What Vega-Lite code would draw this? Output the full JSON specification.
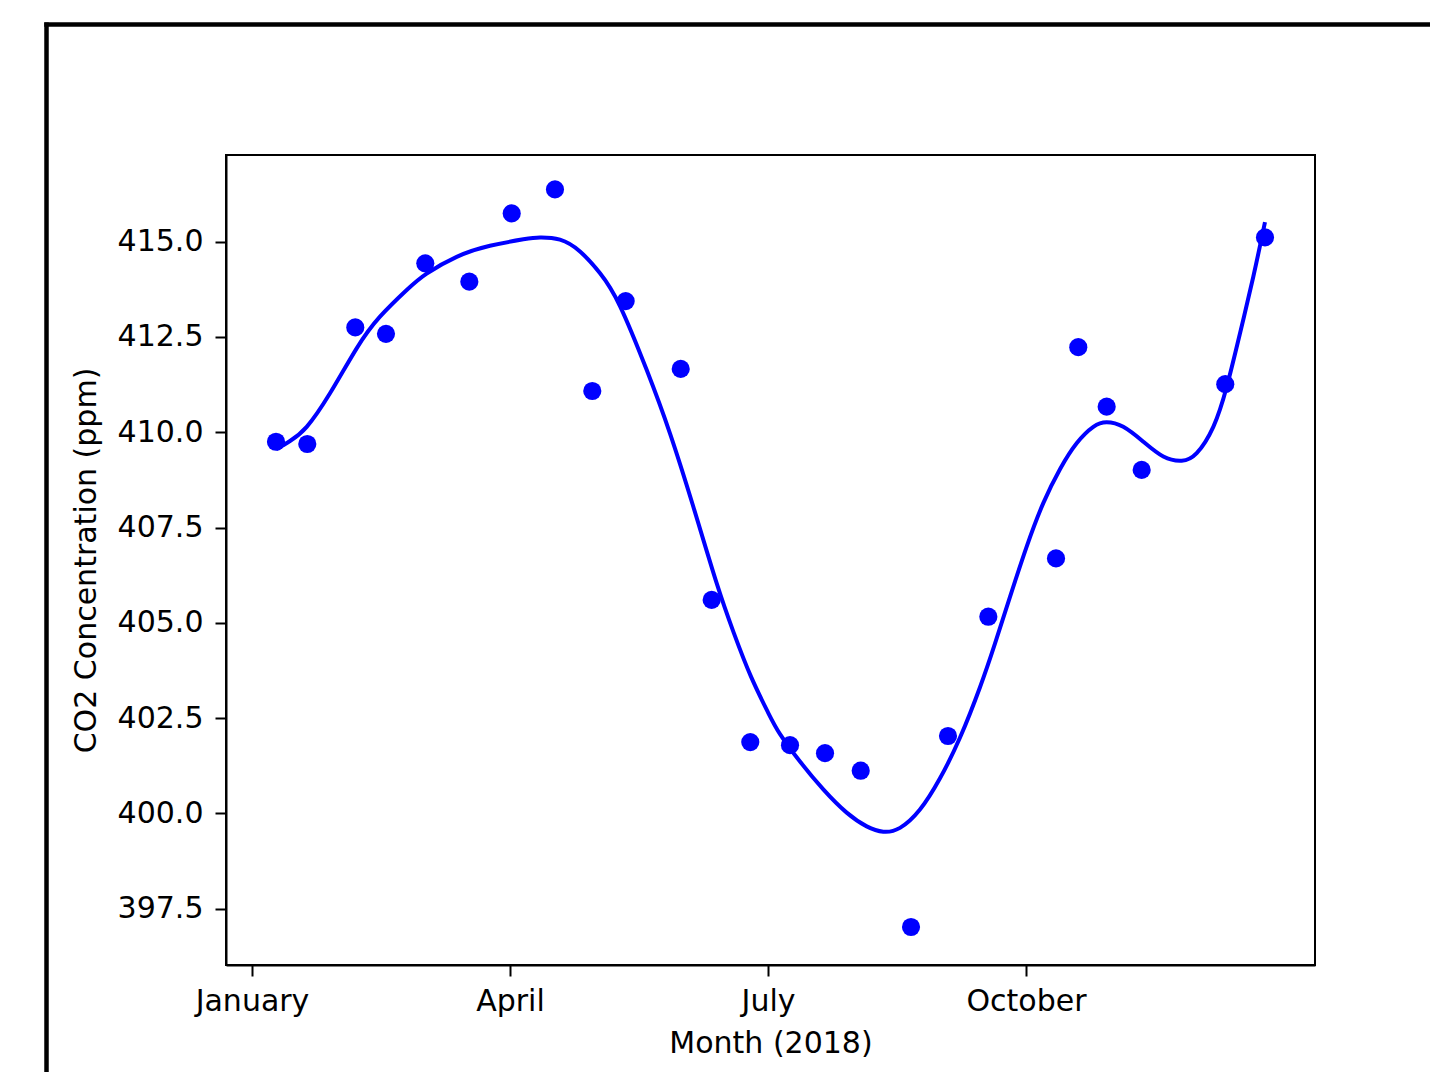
{
  "$schema": "https://vega.github.io/schema/vega-lite/v6.json",
  "width": 1089,
  "height": 810,
  "autosize": {"type": "none"},
  "padding": {"left": 226, "top": 155, "right": 115, "bottom": 107},
  "background": "white",
  "config": {
    "font": "DejaVu Sans",
    "view": {"stroke": "black", "strokeWidth": 2},
    "axis": {
      "labelFont": "DejaVu Sans",
      "labelFontSize": 30,
      "labelColor": "black",
      "titleFont": "DejaVu Sans",
      "titleFontSize": 30,
      "titleFontWeight": "normal",
      "titleColor": "black",
      "tickColor": "black",
      "tickWidth": 2,
      "tickSize": 11,
      "domainColor": "black",
      "domainWidth": 2,
      "grid": false,
      "labelFlush": false,
      "labelOverlap": false
    }
  },
  "datasets": {
    "obs": [
      {"month": 1.279, "co2": 409.75},
      {"month": 1.643, "co2": 409.69},
      {"month": 2.201, "co2": 412.75},
      {"month": 2.558, "co2": 412.58},
      {"month": 3.015, "co2": 414.43},
      {"month": 3.527, "co2": 413.95},
      {"month": 4.020, "co2": 415.74},
      {"month": 4.523, "co2": 416.37},
      {"month": 4.957, "co2": 411.08},
      {"month": 5.345, "co2": 413.44},
      {"month": 5.985, "co2": 411.66},
      {"month": 6.345, "co2": 405.60},
      {"month": 6.794, "co2": 401.87},
      {"month": 7.256, "co2": 401.79},
      {"month": 7.663, "co2": 401.58},
      {"month": 8.078, "co2": 401.12},
      {"month": 8.663, "co2": 397.02},
      {"month": 9.093, "co2": 402.03},
      {"month": 9.562, "co2": 405.16},
      {"month": 10.349, "co2": 406.69},
      {"month": 10.608, "co2": 412.23},
      {"month": 10.938, "co2": 410.67},
      {"month": 11.345, "co2": 409.01},
      {"month": 12.317, "co2": 411.26},
      {"month": 12.779, "co2": 415.11}
    ],
    "fit": [
      {"month": 1.279, "co2": 409.55},
      {"month": 1.442, "co2": 409.77},
      {"month": 1.636, "co2": 410.14},
      {"month": 1.907, "co2": 411.02},
      {"month": 2.217, "co2": 412.20},
      {"month": 2.488, "co2": 413.03},
      {"month": 2.799, "co2": 413.73},
      {"month": 3.031, "co2": 414.16},
      {"month": 3.380, "co2": 414.60},
      {"month": 3.767, "co2": 414.89},
      {"month": 4.155, "co2": 415.06},
      {"month": 4.349, "co2": 415.11},
      {"month": 4.581, "co2": 415.05},
      {"month": 4.814, "co2": 414.74},
      {"month": 5.047, "co2": 414.17},
      {"month": 5.279, "co2": 413.31},
      {"month": 5.590, "co2": 411.63},
      {"month": 5.860, "co2": 409.97},
      {"month": 6.131, "co2": 408.05},
      {"month": 6.403, "co2": 406.04},
      {"month": 6.600, "co2": 404.75},
      {"month": 6.800, "co2": 403.60},
      {"month": 7.000, "co2": 402.65},
      {"month": 7.140, "co2": 402.08},
      {"month": 7.372, "co2": 401.36},
      {"month": 7.643, "co2": 400.63},
      {"month": 7.915, "co2": 400.02},
      {"month": 8.148, "co2": 399.66},
      {"month": 8.341, "co2": 399.52},
      {"month": 8.535, "co2": 399.62},
      {"month": 8.767, "co2": 400.10},
      {"month": 9.000, "co2": 400.92},
      {"month": 9.233, "co2": 401.99},
      {"month": 9.465, "co2": 403.31},
      {"month": 9.640, "co2": 404.46},
      {"month": 9.814, "co2": 405.68},
      {"month": 10.008, "co2": 407.00},
      {"month": 10.201, "co2": 408.14},
      {"month": 10.395, "co2": 409.03},
      {"month": 10.589, "co2": 409.71},
      {"month": 10.783, "co2": 410.14},
      {"month": 10.938, "co2": 410.26},
      {"month": 11.131, "co2": 410.14},
      {"month": 11.364, "co2": 409.75},
      {"month": 11.597, "co2": 409.36},
      {"month": 11.810, "co2": 409.25},
      {"month": 11.985, "co2": 409.45},
      {"month": 12.178, "co2": 410.14},
      {"month": 12.334, "co2": 411.19},
      {"month": 12.488, "co2": 412.59},
      {"month": 12.643, "co2": 414.08},
      {"month": 12.779, "co2": 415.51}
    ]
  },
  "layer": [
    {
      "data": {"name": "obs"},
      "mark": {"type": "point", "filled": true, "size": 330, "color": "#0000ff", "opacity": 1, "strokeWidth": 0},
      "encoding": {
        "x": {
          "field": "month",
          "type": "quantitative",
          "scale": {"domain": [0.6977, 13.3605], "nice": false, "zero": false},
          "axis": {
            "title": "Month (2018)",
            "values": [1, 4, 7, 10],
            "labelExpr": "datum.value == 1 ? 'January' : datum.value == 4 ? 'April' : datum.value == 7 ? 'July' : 'October'",
            "labelPadding": 10,
            "titlePadding": 12
          }
        },
        "y": {
          "field": "co2",
          "type": "quantitative",
          "scale": {"domain": [396.023, 417.272], "nice": false, "zero": false},
          "axis": {
            "title": "CO2 Concentration (ppm)",
            "values": [397.5, 400, 402.5, 405, 407.5, 410, 412.5, 415],
            "format": ".1f",
            "labelPadding": 12,
            "titlePadding": 16
          }
        }
      }
    },
    {
      "data": {"name": "fit"},
      "mark": {"type": "line", "color": "#0000ff", "strokeWidth": 4, "interpolate": "natural"},
      "encoding": {
        "x": {"field": "month", "type": "quantitative"},
        "y": {"field": "co2", "type": "quantitative"}
      }
    },
    {
      "data": {"values": [{}]},
      "mark": {"type": "rule", "color": "black", "strokeWidth": 4.5, "clip": false},
      "encoding": {
        "x": {"datum": -1.3895, "type": "quantitative"},
        "y": {"datum": 420.75, "type": "quantitative"},
        "y2": {"datum": 390}
      }
    },
    {
      "data": {"values": [{}]},
      "mark": {"type": "rule", "color": "black", "strokeWidth": 4.5, "clip": false},
      "encoding": {
        "x": {"datum": -1.4157, "type": "quantitative"},
        "x2": {"datum": 16},
        "y": {"datum": 420.695, "type": "quantitative"}
      }
    }
  ]
}
